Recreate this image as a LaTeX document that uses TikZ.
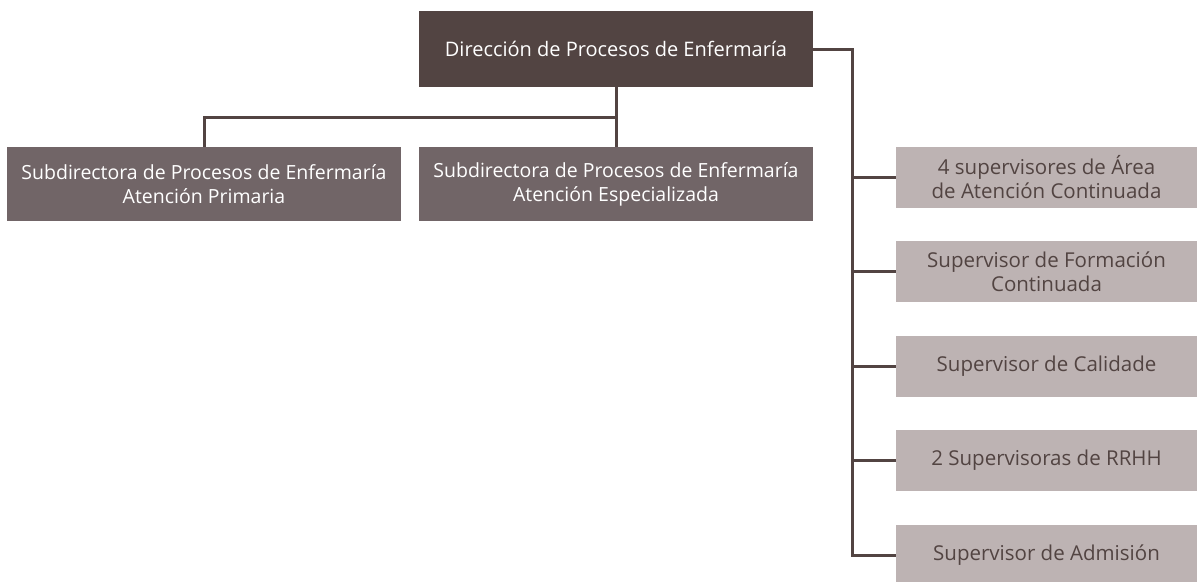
\documentclass[tikz,border=0pt]{standalone}
\usepackage{fontspec}
\setmainfont{Open Sans}
\usetikzlibrary{positioning,calc}

\definecolor{darkbrown}{HTML}{524442}
\definecolor{midbrown}{HTML}{716567}
\definecolor{lightbrown}{HTML}{BDB3B3}

\tikzset{
  topbox/.style={fill=darkbrown,text=white,minimum width=394pt,minimum height=76pt,inner sep=0pt,align=center,font=\fontsize{20}{24}\selectfont},
  subbox/.style={fill=midbrown,text=white,minimum width=394pt,minimum height=74pt,inner sep=0pt,align=center,font=\fontsize{19.5}{24}\selectfont},
  supbox/.style={fill=lightbrown,text=darkbrown,minimum width=301pt,minimum height=61pt,inner sep=0pt,align=center,font=\fontsize{20.5}{24}\selectfont},
  link/.style={draw=darkbrown,line width=3pt}
}

\begin{document}
\begin{tikzpicture}[x=1pt,y=-1pt]
    \useasboundingbox (0,0) rectangle (1198,581);
    \begin{scope}
    \clip (0,0) rectangle (1198,581);
    % top
    \node[topbox] (dir) at (616,49) {Dirección de Procesos de Enfermaría};
    % second level
    \node[subbox] (subAP) at (204,184) {Subdirectora de Procesos de Enfermaría\\Atención Primaria};
    \node[subbox] (subAE) at (616,184) {Subdirectora de Procesos de Enfermaría\\Atención Especializada};
    % supervisors
    \node[supbox] (sup1) at (1046.5,177.5) {4 supervisores de Área\\de Atención Continuada};
    \node[supbox] (sup2) at (1046.5,271.5) {Supervisor de Formación\\Continuada};
    \node[supbox] (sup3) at (1046.5,366) {Supervisor de Calidade};
    \node[supbox] (sup4) at (1046.5,460.5) {2 Supervisoras de RRHH};
    \node[supbox] (sup5) at (1046.5,555.5) {Supervisor de Admisión};
    \coordinate (spine) at (852,49);
    \end{scope}

    % connectors
    \draw[link] (dir.south) -- (subAE.north);
    \draw[link] (subAP.north) |- ($(dir.south)!0.5!(subAE.north)$);
    \draw[link] (dir.east) -- (spine) |- (sup5.west);
    \foreach \s in {sup1,sup2,sup3,sup4}
      \draw[link] (\s.west -| spine) -- (\s.west);
\end{tikzpicture}
\end{document}
